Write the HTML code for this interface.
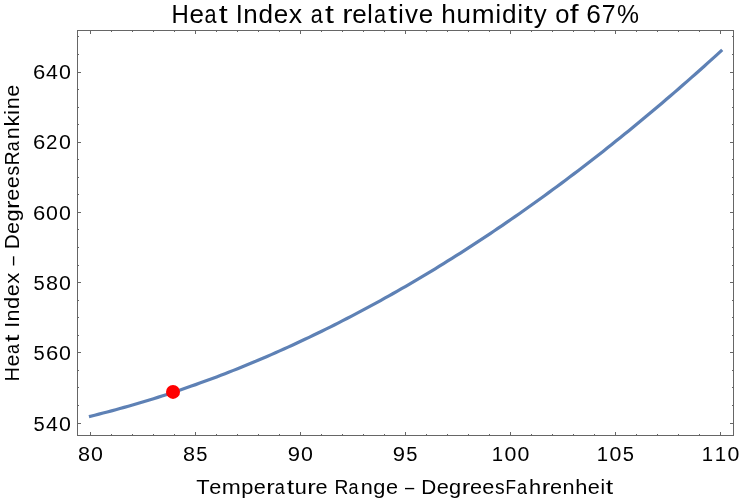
<!DOCTYPE html>
<html><head><meta charset="utf-8"><style>
html,body{margin:0;padding:0;background:#fff;}
svg{display:block;will-change:transform;}
text{font-family:"Liberation Sans",sans-serif;fill:#000;}
</style></head><body>
<svg width="742" height="500" viewBox="0 0 742 500">
<rect x="0" y="0" width="742" height="500" fill="#fff"/>
<g stroke="#666" stroke-width="1" fill="none" shape-rendering="crispEdges">
<rect x="77.5" y="30.5" width="656.0" height="405.0"/>
<line x1="90.50" y1="435.5" x2="90.50" y2="432.0"/>
<line x1="90.50" y1="30.5" x2="90.50" y2="34.0"/>
<line x1="111.50" y1="435.5" x2="111.50" y2="433.7"/>
<line x1="111.50" y1="30.5" x2="111.50" y2="32.3"/>
<line x1="132.50" y1="435.5" x2="132.50" y2="433.7"/>
<line x1="132.50" y1="30.5" x2="132.50" y2="32.3"/>
<line x1="153.50" y1="435.5" x2="153.50" y2="433.7"/>
<line x1="153.50" y1="30.5" x2="153.50" y2="32.3"/>
<line x1="174.50" y1="435.5" x2="174.50" y2="433.7"/>
<line x1="174.50" y1="30.5" x2="174.50" y2="32.3"/>
<line x1="195.50" y1="435.5" x2="195.50" y2="432.0"/>
<line x1="195.50" y1="30.5" x2="195.50" y2="34.0"/>
<line x1="216.50" y1="435.5" x2="216.50" y2="433.7"/>
<line x1="216.50" y1="30.5" x2="216.50" y2="32.3"/>
<line x1="237.50" y1="435.5" x2="237.50" y2="433.7"/>
<line x1="237.50" y1="30.5" x2="237.50" y2="32.3"/>
<line x1="258.50" y1="435.5" x2="258.50" y2="433.7"/>
<line x1="258.50" y1="30.5" x2="258.50" y2="32.3"/>
<line x1="279.50" y1="435.5" x2="279.50" y2="433.7"/>
<line x1="279.50" y1="30.5" x2="279.50" y2="32.3"/>
<line x1="300.50" y1="435.5" x2="300.50" y2="432.0"/>
<line x1="300.50" y1="30.5" x2="300.50" y2="34.0"/>
<line x1="321.50" y1="435.5" x2="321.50" y2="433.7"/>
<line x1="321.50" y1="30.5" x2="321.50" y2="32.3"/>
<line x1="342.50" y1="435.5" x2="342.50" y2="433.7"/>
<line x1="342.50" y1="30.5" x2="342.50" y2="32.3"/>
<line x1="363.50" y1="435.5" x2="363.50" y2="433.7"/>
<line x1="363.50" y1="30.5" x2="363.50" y2="32.3"/>
<line x1="384.50" y1="435.5" x2="384.50" y2="433.7"/>
<line x1="384.50" y1="30.5" x2="384.50" y2="32.3"/>
<line x1="405.50" y1="435.5" x2="405.50" y2="432.0"/>
<line x1="405.50" y1="30.5" x2="405.50" y2="34.0"/>
<line x1="426.50" y1="435.5" x2="426.50" y2="433.7"/>
<line x1="426.50" y1="30.5" x2="426.50" y2="32.3"/>
<line x1="447.50" y1="435.5" x2="447.50" y2="433.7"/>
<line x1="447.50" y1="30.5" x2="447.50" y2="32.3"/>
<line x1="468.50" y1="435.5" x2="468.50" y2="433.7"/>
<line x1="468.50" y1="30.5" x2="468.50" y2="32.3"/>
<line x1="489.50" y1="435.5" x2="489.50" y2="433.7"/>
<line x1="489.50" y1="30.5" x2="489.50" y2="32.3"/>
<line x1="510.50" y1="435.5" x2="510.50" y2="432.0"/>
<line x1="510.50" y1="30.5" x2="510.50" y2="34.0"/>
<line x1="531.50" y1="435.5" x2="531.50" y2="433.7"/>
<line x1="531.50" y1="30.5" x2="531.50" y2="32.3"/>
<line x1="552.50" y1="435.5" x2="552.50" y2="433.7"/>
<line x1="552.50" y1="30.5" x2="552.50" y2="32.3"/>
<line x1="573.50" y1="435.5" x2="573.50" y2="433.7"/>
<line x1="573.50" y1="30.5" x2="573.50" y2="32.3"/>
<line x1="594.50" y1="435.5" x2="594.50" y2="433.7"/>
<line x1="594.50" y1="30.5" x2="594.50" y2="32.3"/>
<line x1="615.50" y1="435.5" x2="615.50" y2="432.0"/>
<line x1="615.50" y1="30.5" x2="615.50" y2="34.0"/>
<line x1="636.50" y1="435.5" x2="636.50" y2="433.7"/>
<line x1="636.50" y1="30.5" x2="636.50" y2="32.3"/>
<line x1="657.50" y1="435.5" x2="657.50" y2="433.7"/>
<line x1="657.50" y1="30.5" x2="657.50" y2="32.3"/>
<line x1="678.50" y1="435.5" x2="678.50" y2="433.7"/>
<line x1="678.50" y1="30.5" x2="678.50" y2="32.3"/>
<line x1="699.50" y1="435.5" x2="699.50" y2="433.7"/>
<line x1="699.50" y1="30.5" x2="699.50" y2="32.3"/>
<line x1="720.50" y1="435.5" x2="720.50" y2="432.0"/>
<line x1="720.50" y1="30.5" x2="720.50" y2="34.0"/>
<line x1="77.5" y1="423.00" x2="81.0" y2="423.00"/>
<line x1="733.5" y1="423.00" x2="730.0" y2="423.00"/>
<line x1="77.5" y1="405.45" x2="79.3" y2="405.45"/>
<line x1="733.5" y1="405.45" x2="731.7" y2="405.45"/>
<line x1="77.5" y1="387.90" x2="79.3" y2="387.90"/>
<line x1="733.5" y1="387.90" x2="731.7" y2="387.90"/>
<line x1="77.5" y1="370.35" x2="79.3" y2="370.35"/>
<line x1="733.5" y1="370.35" x2="731.7" y2="370.35"/>
<line x1="77.5" y1="352.80" x2="81.0" y2="352.80"/>
<line x1="733.5" y1="352.80" x2="730.0" y2="352.80"/>
<line x1="77.5" y1="335.25" x2="79.3" y2="335.25"/>
<line x1="733.5" y1="335.25" x2="731.7" y2="335.25"/>
<line x1="77.5" y1="317.70" x2="79.3" y2="317.70"/>
<line x1="733.5" y1="317.70" x2="731.7" y2="317.70"/>
<line x1="77.5" y1="300.15" x2="79.3" y2="300.15"/>
<line x1="733.5" y1="300.15" x2="731.7" y2="300.15"/>
<line x1="77.5" y1="282.60" x2="81.0" y2="282.60"/>
<line x1="733.5" y1="282.60" x2="730.0" y2="282.60"/>
<line x1="77.5" y1="265.05" x2="79.3" y2="265.05"/>
<line x1="733.5" y1="265.05" x2="731.7" y2="265.05"/>
<line x1="77.5" y1="247.50" x2="79.3" y2="247.50"/>
<line x1="733.5" y1="247.50" x2="731.7" y2="247.50"/>
<line x1="77.5" y1="229.95" x2="79.3" y2="229.95"/>
<line x1="733.5" y1="229.95" x2="731.7" y2="229.95"/>
<line x1="77.5" y1="212.40" x2="81.0" y2="212.40"/>
<line x1="733.5" y1="212.40" x2="730.0" y2="212.40"/>
<line x1="77.5" y1="194.85" x2="79.3" y2="194.85"/>
<line x1="733.5" y1="194.85" x2="731.7" y2="194.85"/>
<line x1="77.5" y1="177.30" x2="79.3" y2="177.30"/>
<line x1="733.5" y1="177.30" x2="731.7" y2="177.30"/>
<line x1="77.5" y1="159.75" x2="79.3" y2="159.75"/>
<line x1="733.5" y1="159.75" x2="731.7" y2="159.75"/>
<line x1="77.5" y1="142.20" x2="81.0" y2="142.20"/>
<line x1="733.5" y1="142.20" x2="730.0" y2="142.20"/>
<line x1="77.5" y1="124.65" x2="79.3" y2="124.65"/>
<line x1="733.5" y1="124.65" x2="731.7" y2="124.65"/>
<line x1="77.5" y1="107.10" x2="79.3" y2="107.10"/>
<line x1="733.5" y1="107.10" x2="731.7" y2="107.10"/>
<line x1="77.5" y1="89.55" x2="79.3" y2="89.55"/>
<line x1="733.5" y1="89.55" x2="731.7" y2="89.55"/>
<line x1="77.5" y1="72.00" x2="81.0" y2="72.00"/>
<line x1="733.5" y1="72.00" x2="730.0" y2="72.00"/>
<line x1="77.5" y1="54.45" x2="79.3" y2="54.45"/>
<line x1="733.5" y1="54.45" x2="731.7" y2="54.45"/>
<line x1="77.5" y1="36.90" x2="79.3" y2="36.90"/>
<line x1="733.5" y1="36.90" x2="731.7" y2="36.90"/>
</g>
<path d="M90.50,416.24 L94.70,415.20 L98.91,414.14 L103.11,413.07 L107.31,411.97 L111.52,410.86 L115.72,409.72 L119.92,408.57 L124.13,407.40 L128.33,406.21 L132.53,405.00 L136.74,403.77 L140.94,402.52 L145.15,401.26 L149.35,399.98 L153.55,398.67 L157.76,397.35 L161.96,396.01 L166.16,394.65 L170.37,393.28 L174.57,391.88 L178.77,390.47 L182.98,389.03 L187.18,387.58 L191.38,386.11 L195.59,384.62 L199.79,383.11 L203.99,381.58 L208.20,380.04 L212.40,378.47 L216.60,376.89 L220.81,375.29 L225.01,373.67 L229.22,372.03 L233.42,370.37 L237.62,368.69 L241.83,367.00 L246.03,365.28 L250.23,363.55 L254.44,361.80 L258.64,360.03 L262.84,358.24 L267.05,356.43 L271.25,354.60 L275.45,352.76 L279.66,350.90 L283.86,349.01 L288.06,347.11 L292.27,345.19 L296.47,343.25 L300.67,341.29 L304.88,339.32 L309.08,337.32 L313.29,335.31 L317.49,333.28 L321.69,331.23 L325.90,329.16 L330.10,327.07 L334.30,324.96 L338.51,322.83 L342.71,320.69 L346.91,318.52 L351.12,316.34 L355.32,314.14 L359.52,311.92 L363.73,309.68 L367.93,307.43 L372.13,305.15 L376.34,302.86 L380.54,300.54 L384.75,298.21 L388.95,295.86 L393.15,293.49 L397.36,291.10 L401.56,288.70 L405.76,286.27 L409.97,283.83 L414.17,281.36 L418.37,278.88 L422.58,276.38 L426.78,273.86 L430.98,271.32 L435.19,268.77 L439.39,266.19 L443.59,263.60 L447.80,260.98 L452.00,258.35 L456.20,255.70 L460.41,253.03 L464.61,250.35 L468.81,247.64 L473.02,244.91 L477.22,242.17 L481.43,239.41 L485.63,236.63 L489.83,233.83 L494.04,231.01 L498.24,228.17 L502.44,225.31 L506.65,222.44 L510.85,219.54 L515.05,216.63 L519.26,213.70 L523.46,210.75 L527.66,207.78 L531.87,204.80 L536.07,201.79 L540.27,198.77 L544.48,195.72 L548.68,192.66 L552.88,189.58 L557.09,186.48 L561.29,183.36 L565.50,180.22 L569.70,177.07 L573.90,173.89 L578.11,170.70 L582.31,167.49 L586.51,164.26 L590.72,161.01 L594.92,157.74 L599.12,154.45 L603.33,151.15 L607.53,147.82 L611.73,144.48 L615.94,141.12 L620.14,137.74 L624.34,134.34 L628.55,130.92 L632.75,127.49 L636.96,124.03 L641.16,120.56 L645.36,117.06 L649.57,113.55 L653.77,110.02 L657.97,106.47 L662.18,102.91 L666.38,99.32 L670.58,95.72 L674.79,92.09 L678.99,88.45 L683.19,84.79 L687.40,81.11 L691.60,77.41 L695.80,73.69 L700.01,69.96 L704.21,66.20 L708.41,62.43 L712.62,58.64 L716.82,54.83 L721.03,51.00" fill="none" stroke="#5e81b5" stroke-width="3.2" stroke-linejoin="round" stroke-linecap="square"/>
<circle cx="173" cy="391.9" r="7" fill="#ff0000"/>
<g font-size="19.5">
<text transform="translate(84.05,460.50) scale(1.107,1)" x="-5.42">8</text>
<text transform="translate(96.94,460.50) scale(1.095,1)" x="-5.42">0</text><text transform="translate(189.05,460.50) scale(1.107,1)" x="-5.42">8</text>
<text transform="translate(201.84,460.50) scale(1.033,1)" x="-5.40">5</text><text transform="translate(293.98,460.50) scale(1.131,1)" x="-5.42">9</text>
<text transform="translate(306.94,460.50) scale(1.095,1)" x="-5.42">0</text><text transform="translate(398.98,460.50) scale(1.131,1)" x="-5.42">9</text>
<text transform="translate(411.84,460.50) scale(1.033,1)" x="-5.40">5</text><text transform="translate(497.79,460.50) scale(1.046,1)" x="-5.69">1</text>
<text transform="translate(510.50,460.50) scale(1.095,1)" x="-5.42">0</text>
<text transform="translate(523.38,460.50) scale(1.095,1)" x="-5.42">0</text><text transform="translate(602.79,460.50) scale(1.046,1)" x="-5.69">1</text>
<text transform="translate(615.50,460.50) scale(1.095,1)" x="-5.42">0</text>
<text transform="translate(628.28,460.50) scale(1.033,1)" x="-5.40">5</text><text transform="translate(707.79,460.50) scale(1.046,1)" x="-5.69">1</text>
<text transform="translate(720.68,460.50) scale(1.046,1)" x="-5.69">1</text>
<text transform="translate(733.38,460.50) scale(1.095,1)" x="-5.42">0</text>
<text transform="translate(39.04,431.00) scale(1.033,1)" x="-5.40">5</text>
<text transform="translate(51.95,431.00) scale(1.095,1)" x="-5.36">4</text>
<text transform="translate(64.90,431.00) scale(1.095,1)" x="-5.42">0</text><text transform="translate(39.04,360.00) scale(1.033,1)" x="-5.40">5</text>
<text transform="translate(52.09,360.00) scale(1.133,1)" x="-5.49">6</text>
<text transform="translate(64.90,360.00) scale(1.095,1)" x="-5.42">0</text><text transform="translate(39.04,290.00) scale(1.033,1)" x="-5.40">5</text>
<text transform="translate(52.02,290.00) scale(1.107,1)" x="-5.42">8</text>
<text transform="translate(64.90,290.00) scale(1.095,1)" x="-5.42">0</text><text transform="translate(39.21,220.00) scale(1.133,1)" x="-5.49">6</text>
<text transform="translate(52.02,220.00) scale(1.095,1)" x="-5.42">0</text>
<text transform="translate(64.90,220.00) scale(1.095,1)" x="-5.42">0</text><text transform="translate(39.21,149.00) scale(1.133,1)" x="-5.49">6</text>
<text transform="translate(51.75,149.00) scale(1.055,1)" x="-5.42">2</text>
<text transform="translate(64.90,149.00) scale(1.095,1)" x="-5.42">0</text><text transform="translate(39.21,79.00) scale(1.133,1)" x="-5.49">6</text>
<text transform="translate(51.95,79.00) scale(1.095,1)" x="-5.36">4</text>
<text transform="translate(64.90,79.00) scale(1.095,1)" x="-5.42">0</text>
</g>
<g font-size="25.4">
<text transform="translate(180.09,22.60) scale(0.943,1)" x="-9.18">H</text>
<text transform="translate(196.57,22.60) scale(1.024,1)" x="-7.04">e</text>
<text transform="translate(210.96,22.60) scale(0.852,1)" x="-7.60">a</text>
<text transform="translate(223.46,22.60) scale(1.267,1)" x="-3.63">t</text>
<text transform="translate(239.35,22.60) scale(1.002,1)" x="-3.53">I</text>
<text transform="translate(250.60,22.60) scale(1.022,1)" x="-7.08">n</text>
<text transform="translate(265.37,22.60) scale(1.030,1)" x="-6.78">d</text>
<text transform="translate(280.87,22.60) scale(1.024,1)" x="-7.04">e</text>
<text transform="translate(295.33,22.60) scale(1.051,1)" x="-6.36">x</text>
<text transform="translate(317.16,22.60) scale(0.852,1)" x="-7.60">a</text>
<text transform="translate(329.66,22.60) scale(1.267,1)" x="-3.63">t</text>
<text transform="translate(348.04,22.60) scale(1.214,1)" x="-4.86">r</text>
<text transform="translate(359.32,22.60) scale(1.024,1)" x="-7.04">e</text>
<text transform="translate(370.06,22.60) scale(0.969,1)" x="-2.83">l</text>
<text transform="translate(380.40,22.60) scale(0.852,1)" x="-7.60">a</text>
<text transform="translate(392.90,22.60) scale(1.267,1)" x="-3.63">t</text>
<text transform="translate(400.94,22.60) scale(0.969,1)" x="-2.82">i</text>
<text transform="translate(411.40,22.60) scale(1.023,1)" x="-6.35">v</text>
<text transform="translate(425.95,22.60) scale(1.024,1)" x="-7.04">e</text>
<text transform="translate(448.69,22.60) scale(1.029,1)" x="-7.12">h</text>
<text transform="translate(463.81,22.60) scale(1.022,1)" x="-7.04">u</text>
<text transform="translate(483.30,22.60) scale(1.080,1)" x="-10.59">m</text>
<text transform="translate(498.31,22.60) scale(0.969,1)" x="-2.82">i</text>
<text transform="translate(508.86,22.60) scale(1.030,1)" x="-6.78">d</text>
<text transform="translate(520.28,22.60) scale(0.969,1)" x="-2.82">i</text>
<text transform="translate(528.37,22.60) scale(1.267,1)" x="-3.63">t</text>
<text transform="translate(540.18,22.60) scale(1.018,1)" x="-6.36">y</text>
<text transform="translate(562.33,22.60) scale(1.008,1)" x="-7.06">o</text>
<text transform="translate(574.43,22.60) scale(1.245,1)" x="-3.73">f</text>
<text transform="translate(593.56,22.60) scale(1.034,1)" x="-7.15">6</text>
<text transform="translate(608.75,22.60) scale(0.977,1)" x="-7.08">7</text>
<text transform="translate(627.89,22.60) scale(0.973,1)" x="-11.29">%</text>
</g>
<g font-size="19.5">
<text transform="translate(202.89,493.80) scale(1.123,1)" x="-5.95">T</text>
<text transform="translate(215.21,493.80) scale(1.112,1)" x="-5.40">e</text>
<text transform="translate(231.21,493.80) scale(1.173,1)" x="-8.13">m</text>
<text transform="translate(247.66,493.80) scale(1.120,1)" x="-5.64">p</text>
<text transform="translate(259.86,493.80) scale(1.112,1)" x="-5.40">e</text>
<text transform="translate(271.05,493.80) scale(1.319,1)" x="-3.73">r</text>
<text transform="translate(280.11,493.80) scale(0.926,1)" x="-5.84">a</text>
<text transform="translate(290.53,493.80) scale(1.376,1)" x="-2.79">t</text>
<text transform="translate(300.74,493.80) scale(1.110,1)" x="-5.41">u</text>
<text transform="translate(312.20,493.80) scale(1.319,1)" x="-3.73">r</text>
<text transform="translate(321.61,493.80) scale(1.112,1)" x="-5.40">e</text>
<text transform="translate(341.82,493.80) scale(0.985,1)" x="-7.39">R</text>
<text transform="translate(353.94,493.80) scale(0.926,1)" x="-5.84">a</text>
<text transform="translate(366.81,493.80) scale(1.110,1)" x="-5.44">n</text>
<text transform="translate(379.13,493.80) scale(1.119,1)" x="-5.20">g</text>
<text transform="translate(392.05,493.80) scale(1.112,1)" x="-5.40">e</text>
<text transform="translate(409.61,493.80) scale(0.850,1)" x="-5.42">–</text>
<text transform="translate(429.13,493.80) scale(1.065,1)" x="-7.37">D</text>
<text transform="translate(442.66,493.80) scale(1.112,1)" x="-5.40">e</text>
<text transform="translate(454.83,493.80) scale(1.119,1)" x="-5.20">g</text>
<text transform="translate(466.59,493.80) scale(1.319,1)" x="-3.73">r</text>
<text transform="translate(476.00,493.80) scale(1.112,1)" x="-5.40">e</text>
<text transform="translate(488.35,493.80) scale(1.112,1)" x="-5.40">e</text>
<text transform="translate(499.79,493.80) scale(0.987,1)" x="-4.79">s</text>
<text transform="translate(511.14,493.80) scale(0.882,1)" x="-6.37">F</text>
<text transform="translate(522.35,493.80) scale(0.926,1)" x="-5.84">a</text>
<text transform="translate(535.23,493.80) scale(1.118,1)" x="-5.47">h</text>
<text transform="translate(546.57,493.80) scale(1.319,1)" x="-3.73">r</text>
<text transform="translate(555.98,493.80) scale(1.112,1)" x="-5.40">e</text>
<text transform="translate(568.56,493.80) scale(1.110,1)" x="-5.44">n</text>
<text transform="translate(581.28,493.80) scale(1.118,1)" x="-5.47">h</text>
<text transform="translate(593.78,493.80) scale(1.112,1)" x="-5.40">e</text>
<text transform="translate(602.73,493.80) scale(1.052,1)" x="-2.16">i</text>
<text transform="translate(609.47,493.80) scale(1.376,1)" x="-2.79">t</text>
</g>
<g font-size="19.5" transform="translate(19.2,379.8) rotate(-90)">
<text transform="translate(5.57,0.00) scale(1.022,1)" x="-7.05">H</text>
<text transform="translate(19.29,0.00) scale(1.110,1)" x="-5.40">e</text>
<text transform="translate(31.27,0.00) scale(0.924,1)" x="-5.84">a</text>
<text transform="translate(41.67,0.00) scale(1.374,1)" x="-2.79">t</text>
<text transform="translate(54.90,0.00) scale(1.087,1)" x="-2.71">I</text>
<text transform="translate(64.26,0.00) scale(1.108,1)" x="-5.44">n</text>
<text transform="translate(76.56,0.00) scale(1.117,1)" x="-5.20">d</text>
<text transform="translate(89.46,0.00) scale(1.110,1)" x="-5.40">e</text>
<text transform="translate(101.50,0.00) scale(1.140,1)" x="-4.88">x</text>
<text transform="translate(118.85,0.00) scale(0.850,1)" x="-5.42">–</text>
<text transform="translate(138.34,0.00) scale(1.063,1)" x="-7.37">D</text>
<text transform="translate(151.85,0.00) scale(1.110,1)" x="-5.40">e</text>
<text transform="translate(163.99,0.00) scale(1.117,1)" x="-5.20">g</text>
<text transform="translate(175.74,0.00) scale(1.317,1)" x="-3.73">r</text>
<text transform="translate(185.14,0.00) scale(1.110,1)" x="-5.40">e</text>
<text transform="translate(197.47,0.00) scale(1.110,1)" x="-5.40">e</text>
<text transform="translate(208.89,0.00) scale(0.985,1)" x="-4.79">s</text>
<text transform="translate(221.71,0.00) scale(0.983,1)" x="-7.39">R</text>
<text transform="translate(233.81,0.00) scale(0.924,1)" x="-5.84">a</text>
<text transform="translate(246.67,0.00) scale(1.108,1)" x="-5.44">n</text>
<text transform="translate(259.64,0.00) scale(1.149,1)" x="-5.55">k</text>
<text transform="translate(267.36,0.00) scale(1.051,1)" x="-2.16">i</text>
<text transform="translate(276.54,0.00) scale(1.108,1)" x="-5.44">n</text>
<text transform="translate(289.02,0.00) scale(1.110,1)" x="-5.40">e</text>
</g>
</svg>
</body></html>
